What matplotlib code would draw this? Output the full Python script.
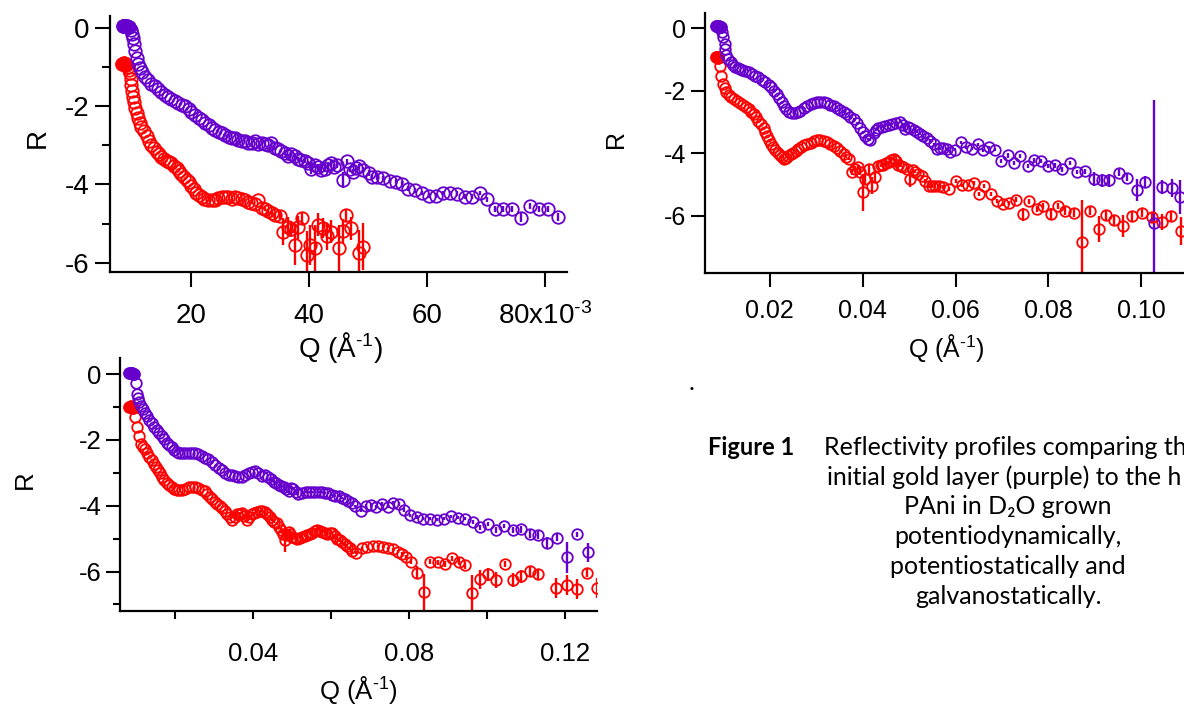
import matplotlib
matplotlib.use('Agg')
import matplotlib.pyplot as plt
from matplotlib.ticker import FixedLocator

plt.rcParams['font.family'] = ['Liberation Sans', 'DejaVu Sans']
plt.rcParams['mathtext.fontset'] = 'custom'
plt.rcParams['mathtext.rm'] = 'Liberation Sans'
plt.rcParams['mathtext.it'] = 'Liberation Sans:italic'
plt.rcParams['axes.unicode_minus'] = False

# ---------------- data: (Q, log R, error) ----------------
# Panel A (top left) -- Q in units of 1e-3 1/Angstrom
gold_a = [
    (8.5, 0.06, 0), (8.7, 0.05, 0), (8.9, 0.06, 0), (9.1, 0.05, 0), (9.3, 0.04, 0), (9.5, 0.03, 0),
    (9.8, -0.05, 0), (10.0, -0.15, 0), (10.2, -0.25, 0), (10.4, -0.40, 0), (10.6, -0.58, 0), (10.8, -0.77, 0),
    (11.1, -0.92, 0), (11.4, -1.02, 0), (11.8, -1.13, 0), (12.2, -1.24, 0), (12.7, -1.33, 0), (13.3, -1.42, 0),
    (13.9, -1.49, 0), (14.5, -1.57, 0), (15.0, -1.63, 0), (15.6, -1.70, 0), (16.2, -1.76, 0), (16.7, -1.81, 0),
    (17.3, -1.86, 0), (17.9, -1.91, 0), (18.5, -1.96, 0), (19.0, -2.00, 0), (19.6, -2.08, 0), (20.1, -2.14, 0),
    (20.7, -2.22, 0), (21.3, -2.29, 0), (21.8, -2.36, 0), (22.4, -2.43, 0), (23.0, -2.49, 0), (23.5, -2.55, 0),
    (24.1, -2.60, 0), (24.7, -2.65, 0), (25.2, -2.69, 0), (25.8, -2.73, 0), (26.4, -2.78, 0), (27.0, -2.82, 0),
    (27.5, -2.80, 0), (28.0, -2.86, 0), (28.6, -2.90, 0), (29.2, -2.88, 0), (29.7, -2.94, 0), (30.3, -2.93, 0),
    (30.9, -2.90, 0), (31.4, -2.97, 0), (32.0, -2.95, 0), (32.5, -2.97, 0), (33.1, -3.00, 0), (33.6, -2.95, 0),
    (34.2, -3.07, 0), (34.8, -3.10, 0), (35.3, -3.15, 0), (35.9, -3.20, 0.05), (36.4, -3.27, 0.05), (37.0, -3.22, 0.05),
    (37.6, -3.28, 0.05), (38.1, -3.36, 0.05), (38.7, -3.38, 0.05), (39.3, -3.41, 0.05), (39.8, -3.45, 0.05), (40.4, -3.60, 0.12),
    (41.0, -3.50, 0.08), (41.5, -3.55, 0.08), (42.1, -3.62, 0.08), (42.7, -3.60, 0.08), (43.2, -3.50, 0.08), (43.8, -3.46, 0.08),
    (44.3, -3.55, 0.08), (44.7, -3.50, 0.08), (45.7, -3.89, 0.20), (46.4, -3.41, 0.07), (47.0, -3.60, 0.07), (47.5, -3.67, 0.07),
    (48.0, -3.58, 0.07), (48.4, -3.54, 0.07), (49.2, -3.63, 0.07), (50.1, -3.71, 0.07), (50.6, -3.80, 0.07), (51.5, -3.81, 0.07),
    (52.5, -3.84, 0.06), (53.7, -3.90, 0.06), (54.7, -3.93, 0.06), (55.7, -3.98, 0.06), (56.8, -4.11, 0.06), (58.0, -4.15, 0.06),
    (59.1, -4.22, 0.06), (60.3, -4.29, 0.06), (61.5, -4.29, 0.06), (62.7, -4.22, 0.06), (63.9, -4.22, 0.06), (65.0, -4.24, 0.06),
    (66.4, -4.31, 0.06), (67.6, -4.31, 0.06), (68.9, -4.22, 0.06), (70.2, -4.38, 0.06), (71.5, -4.63, 0.07), (72.9, -4.63, 0.07),
    (74.4, -4.63, 0.07), (75.9, -4.85, 0.12), (77.5, -4.55, 0.07), (78.9, -4.63, 0.07), (80.4, -4.63, 0.07), (82.1, -4.84, 0.10),
]
pani_a = [
    (8.4, -0.92, 0), (8.6, -0.90, 0), (8.8, -0.91, 0), (9.0, -0.95, 0),
    (9.3, -1.00, 0), (9.5, -1.08, 0), (9.7, -1.15, 0), (9.8, -1.30, 0), (9.9, -1.45, 0), (10.05, -1.60, 0),
    (10.2, -1.75, 0), (10.35, -1.90, 0), (10.5, -2.05, 0), (10.8, -2.18, 0), (11.1, -2.30, 0), (11.4, -2.42, 0),
    (11.6, -2.52, 0), (12.0, -2.64, 0), (12.5, -2.77, 0), (12.9, -2.88, 0), (13.3, -2.99, 0), (13.8, -3.08, 0),
    (14.2, -3.16, 0), (14.6, -3.23, 0), (15.0, -3.29, 0), (15.5, -3.35, 0), (15.9, -3.40, 0), (16.3, -3.43, 0),
    (16.7, -3.46, 0), (17.2, -3.52, 0), (17.6, -3.58, 0), (18.0, -3.66, 0), (18.4, -3.74, 0), (18.9, -3.81, 0),
    (19.3, -3.88, 0), (19.7, -3.95, 0), (20.1, -4.03, 0), (20.5, -4.12, 0), (20.9, -4.22, 0), (21.4, -4.28, 0),
    (21.8, -4.33, 0), (22.3, -4.37, 0), (22.9, -4.39, 0), (23.5, -4.40, 0), (24.1, -4.39, 0), (24.6, -4.35, 0),
    (25.2, -4.31, 0), (25.8, -4.33, 0), (26.3, -4.33, 0), (26.9, -4.36, 0), (27.5, -4.31, 0), (28.0, -4.35, 0),
    (28.6, -4.37, 0), (29.1, -4.40, 0), (29.7, -4.44, 0), (30.2, -4.48, 0), (30.8, -4.50, 0), (31.4, -4.40, 0),
    (32.0, -4.59, 0.05), (32.5, -4.62, 0.05), (33.1, -4.69, 0.06), (33.7, -4.74, 0.07), (34.2, -4.78, 0.08), (35.1, -4.80, 0.10),
    (35.6, -5.21, 0.35), (36.5, -5.08, 0.25), (37.0, -5.15, 0.20), (37.6, -5.55, 0.50), (38.2, -5.10, 0.30), (38.8, -4.86, 0.15),
    (39.6, -5.80, 0.60), (40.2, -5.55, 0.50), (41.0, -5.63, 0.60), (41.6, -5.03, 0.30), (42.4, -5.12, 0.25), (43.0, -5.33, 0.35),
    (43.8, -5.21, 0.30), (45.1, -5.63, 0.60), (45.8, -5.19, 0.30), (46.3, -4.78, 0.15), (47.1, -5.12, 0.30), (48.4, -5.76, 0.60),
    (49.2, -5.59, 0.60),
]

# Panel B (top right)
gold_b = [
    (0.0085, 0.05, 0), (0.0087, 0.05, 0), (0.0089, 0.04, 0), (0.0091, 0.05, 0), (0.0093, 0.04, 0), (0.0095, 0.03, 0),
    (0.0098, -0.12, 0), (0.0100, -0.30, 0), (0.0103, -0.50, 0), (0.0105, -0.67, 0), (0.0107, -0.85, 0), (0.0111, -0.99, 0),
    (0.0116, -1.10, 0), (0.0121, -1.18, 0), (0.0126, -1.24, 0), (0.0131, -1.27, 0), (0.0136, -1.30, 0), (0.0141, -1.33, 0),
    (0.0148, -1.37, 0), (0.0155, -1.42, 0), (0.0162, -1.47, 0), (0.0169, -1.52, 0), (0.0176, -1.58, 0), (0.0184, -1.66, 0),
    (0.0191, -1.73, 0), (0.0198, -1.82, 0), (0.0204, -1.90, 0), (0.0210, -2.00, 0), (0.0216, -2.12, 0), (0.0221, -2.25, 0),
    (0.0226, -2.38, 0), (0.0230, -2.50, 0), (0.0235, -2.60, 0), (0.0241, -2.67, 0), (0.0248, -2.71, 0), (0.0255, -2.72, 0),
    (0.0261, -2.69, 0), (0.0266, -2.64, 0), (0.0273, -2.57, 0), (0.0280, -2.50, 0), (0.0288, -2.44, 0), (0.0295, -2.40, 0),
    (0.0302, -2.37, 0), (0.0309, -2.35, 0), (0.0316, -2.37, 0), (0.0323, -2.40, 0), (0.0331, -2.45, 0), (0.0338, -2.50, 0),
    (0.0345, -2.55, 0.03), (0.0352, -2.61, 0.03), (0.0359, -2.68, 0.03), (0.0366, -2.75, 0.03), (0.0374, -2.83, 0.03), (0.0381, -2.91, 0.03),
    (0.0388, -3.03, 0.03), (0.0394, -3.18, 0.03), (0.0400, -3.32, 0.03), (0.0406, -3.46, 0.03), (0.0412, -3.55, 0.03), (0.0417, -3.57, 0.03),
    (0.0424, -3.34, 0.04), (0.0429, -3.25, 0.04), (0.0434, -3.18, 0.04), (0.0442, -3.15, 0.04), (0.0449, -3.12, 0.04), (0.0456, -3.09, 0.04),
    (0.0463, -3.07, 0.04), (0.0472, -3.05, 0.04), (0.0481, -2.99, 0.04), (0.0487, -3.10, 0.08), (0.0492, -3.23, 0.06), (0.0498, -3.15, 0.04),
    (0.0503, -3.18, 0.04), (0.0510, -3.25, 0.04), (0.0517, -3.31, 0.04), (0.0524, -3.38, 0.04), (0.0531, -3.46, 0.04), (0.0539, -3.52, 0.04),
    (0.0546, -3.60, 0.04), (0.0553, -3.72, 0.04), (0.0560, -3.87, 0.04), (0.0567, -3.85, 0.05), (0.0574, -3.83, 0.05), (0.0581, -3.88, 0.05),
    (0.0589, -3.96, 0.05), (0.0599, -3.89, 0.05), (0.0612, -3.65, 0.05), (0.0623, -3.81, 0.05), (0.0635, -3.86, 0.05), (0.0648, -3.72, 0.05),
    (0.0660, -3.91, 0.05), (0.0673, -3.81, 0.05), (0.0685, -3.89, 0.05), (0.0698, -4.26, 0.07), (0.0712, -4.07, 0.07), (0.0725, -4.32, 0.07),
    (0.0739, -4.10, 0.07), (0.0755, -4.42, 0.07), (0.0769, -4.23, 0.07), (0.0784, -4.26, 0.07), (0.0798, -4.42, 0.07), (0.0814, -4.39, 0.07),
    (0.0830, -4.52, 0.07), (0.0847, -4.32, 0.07), (0.0862, -4.60, 0.07), (0.0879, -4.58, 0.07), (0.0897, -4.82, 0.22), (0.0915, -4.87, 0.22),
    (0.0931, -4.87, 0.20), (0.0951, -4.62, 0.10), (0.0969, -4.78, 0.10), (0.0990, -5.19, 0.35), (0.1008, -4.92, 0.20), (0.1026, -6.24, 3.95),
    (0.1045, -5.08, 0.22), (0.1065, -5.12, 0.28), (0.1084, -5.40, 0.53),
]
pani_b = [
    (0.0084, -0.93, 0), (0.0086, -0.92, 0), (0.0088, -0.94, 0), (0.0090, -0.97, 0),
    (0.0093, -1.20, 0), (0.0095, -1.52, 0), (0.0100, -1.79, 0), (0.0104, -1.93, 0), (0.0107, -2.03, 0), (0.0112, -2.13, 0),
    (0.0117, -2.22, 0), (0.0123, -2.27, 0), (0.0130, -2.32, 0), (0.0136, -2.39, 0), (0.0143, -2.46, 0), (0.0149, -2.52, 0),
    (0.0155, -2.59, 0), (0.0161, -2.67, 0), (0.0166, -2.75, 0), (0.0171, -2.85, 0), (0.0176, -2.96, 0), (0.0182, -3.08, 0),
    (0.0187, -3.21, 0), (0.0191, -3.33, 0), (0.0194, -3.44, 0), (0.0199, -3.58, 0), (0.0203, -3.71, 0), (0.0208, -3.80, 0),
    (0.0212, -3.89, 0), (0.0217, -3.98, 0), (0.0222, -4.06, 0), (0.0226, -4.13, 0), (0.0230, -4.19, 0), (0.0235, -4.15, 0),
    (0.0239, -4.10, 0), (0.0245, -4.04, 0), (0.0250, -3.98, 0), (0.0256, -3.93, 0), (0.0262, -3.87, 0), (0.0268, -3.80, 0),
    (0.0275, -3.74, 0), (0.0281, -3.70, 0), (0.0288, -3.66, 0), (0.0295, -3.61, 0), (0.0302, -3.57, 0), (0.0309, -3.58, 0),
    (0.0316, -3.60, 0), (0.0323, -3.65, 0), (0.0331, -3.71, 0), (0.0338, -3.76, 0), (0.0345, -3.82, 0), (0.0352, -3.92, 0),
    (0.0359, -4.03, 0), (0.0365, -4.12, 0.03), (0.0370, -4.19, 0.04), (0.0377, -4.61, 0.10), (0.0384, -4.51, 0.10), (0.0390, -4.45, 0.08),
    (0.0394, -4.59, 0.12), (0.0400, -5.25, 0.60), (0.0406, -4.83, 0.20), (0.0413, -4.51, 0.15), (0.0420, -5.04, 0.28), (0.0427, -4.77, 0.15),
    (0.0434, -4.40, 0.05), (0.0440, -4.39, 0.05), (0.0445, -4.38, 0.05), (0.0451, -4.33, 0.05), (0.0456, -4.29, 0.05), (0.0461, -4.22, 0.05),
    (0.0467, -4.19, 0.05), (0.0472, -4.25, 0.05), (0.0477, -4.38, 0.08), (0.0483, -4.40, 0.05), (0.0488, -4.45, 0.05), (0.0495, -4.50, 0.05),
    (0.0503, -4.83, 0.25), (0.0508, -4.55, 0.05), (0.0513, -4.59, 0.05), (0.0520, -4.65, 0.05), (0.0528, -4.74, 0.05), (0.0535, -4.90, 0.06),
    (0.0542, -5.06, 0.06), (0.0549, -5.06, 0.06), (0.0556, -5.06, 0.06), (0.0565, -5.05, 0.06), (0.0574, -5.08, 0.06), (0.0587, -5.14, 0.06),
    (0.0601, -4.89, 0.06), (0.0614, -5.03, 0.06), (0.0626, -5.03, 0.06), (0.0639, -4.96, 0.06), (0.0650, -5.30, 0.06), (0.0662, -5.06, 0.06),
    (0.0676, -5.30, 0.06), (0.0690, -5.53, 0.06), (0.0702, -5.64, 0.06), (0.0716, -5.59, 0.06), (0.0731, -5.49, 0.08), (0.0745, -5.96, 0.20),
    (0.0759, -5.53, 0.08), (0.0775, -5.78, 0.10), (0.0789, -5.70, 0.10), (0.0805, -5.94, 0.20), (0.0820, -5.70, 0.10), (0.0836, -5.85, 0.12),
    (0.0854, -5.91, 0.12), (0.0873, -6.84, 1.33), (0.0890, -5.85, 0.12), (0.0908, -6.42, 0.42), (0.0924, -5.99, 0.15), (0.0941, -6.15, 0.18),
    (0.0960, -6.34, 0.35), (0.0979, -6.02, 0.15), (0.1001, -5.91, 0.12), (0.1022, -6.04, 0.15), (0.1044, -6.20, 0.25), (0.1063, -6.02, 0.15),
    (0.1085, -6.49, 0.45),
]

# Panel C (bottom left)
gold_c = [
    (0.0083, 0.02, 0), (0.0086, 0.03, 0), (0.0089, 0.02, 0), (0.0092, 0.01, 0), (0.0095, 0.00, 0),
    (0.0100, -0.28, 0), (0.0102, -0.59, 0), (0.0105, -0.72, 0), (0.0108, -0.84, 0), (0.0112, -0.96, 0), (0.0117, -1.07, 0),
    (0.0122, -1.17, 0), (0.0128, -1.28, 0), (0.0134, -1.39, 0), (0.0141, -1.50, 0), (0.0147, -1.60, 0), (0.0154, -1.70, 0),
    (0.0160, -1.79, 0), (0.0167, -1.88, 0), (0.0173, -1.98, 0), (0.0179, -2.09, 0), (0.0186, -2.16, 0), (0.0192, -2.23, 0),
    (0.0198, -2.30, 0), (0.0205, -2.36, 0), (0.0211, -2.39, 0), (0.0218, -2.41, 0), (0.0226, -2.40, 0), (0.0235, -2.39, 0),
    (0.0243, -2.40, 0), (0.0252, -2.41, 0), (0.0260, -2.44, 0), (0.0269, -2.49, 0), (0.0277, -2.54, 0), (0.0286, -2.59, 0),
    (0.0294, -2.67, 0), (0.0303, -2.77, 0), (0.0312, -2.85, 0), (0.0321, -2.92, 0), (0.0329, -3.00, 0), (0.0338, -3.07, 0),
    (0.0346, -3.08, 0), (0.0355, -3.10, 0), (0.0363, -3.12, 0), (0.0372, -3.14, 0), (0.0380, -3.06, 0), (0.0389, -3.00, 0),
    (0.0397, -2.97, 0), (0.0406, -2.95, 0), (0.0414, -3.02, 0), (0.0423, -3.10, 0), (0.0431, -3.08, 0), (0.0440, -3.12, 0),
    (0.0446, -3.20, 0.04), (0.0453, -3.27, 0.04), (0.0460, -3.32, 0.04), (0.0466, -3.37, 0.04), (0.0473, -3.40, 0.04), (0.0479, -3.42, 0.04),
    (0.0486, -3.50, 0.04), (0.0492, -3.55, 0.04), (0.0498, -3.45, 0.04), (0.0504, -3.48, 0.04), (0.0511, -3.57, 0.04), (0.0517, -3.63, 0.04),
    (0.0526, -3.60, 0.03), (0.0535, -3.58, 0.03), (0.0543, -3.58, 0.03), (0.0552, -3.58, 0.03), (0.0560, -3.58, 0.03), (0.0569, -3.58, 0.03),
    (0.0577, -3.58, 0.03), (0.0586, -3.60, 0.03), (0.0594, -3.62, 0.03), (0.0603, -3.66, 0.03), (0.0611, -3.69, 0.03), (0.0620, -3.71, 0.03),
    (0.0628, -3.76, 0.03), (0.0637, -3.81, 0.03), (0.0645, -3.87, 0.03), (0.0654, -3.93, 0.03), (0.0663, -4.01, 0.03), (0.0678, -4.15, 0.05),
    (0.0691, -4.01, 0.05), (0.0703, -3.98, 0.05), (0.0717, -4.03, 0.05), (0.0731, -3.95, 0.05), (0.0746, -4.03, 0.05), (0.0760, -3.91, 0.05),
    (0.0774, -3.95, 0.05), (0.0789, -4.13, 0.05), (0.0804, -4.29, 0.05), (0.0821, -4.34, 0.05), (0.0837, -4.39, 0.05), (0.0854, -4.39, 0.05),
    (0.0873, -4.42, 0.05), (0.0890, -4.39, 0.05), (0.0909, -4.32, 0.05), (0.0926, -4.36, 0.05), (0.0945, -4.39, 0.05), (0.0964, -4.49, 0.06),
    (0.0984, -4.66, 0.08), (0.1004, -4.56, 0.06), (0.1025, -4.74, 0.10), (0.1045, -4.61, 0.06), (0.1067, -4.74, 0.10), (0.1088, -4.72, 0.10),
    (0.1110, -4.87, 0.12), (0.1131, -4.89, 0.12), (0.1155, -5.13, 0.18), (0.1181, -4.97, 0.10), (0.1206, -5.57, 0.46), (0.1232, -4.87, 0.08),
    (0.1259, -5.42, 0.30),
]
pani_c = [
    (0.0083, -0.99, 0), (0.0086, -0.98, 0), (0.0089, -0.99, 0), (0.0092, -1.02, 0),
    (0.0098, -1.30, 0), (0.0102, -1.60, 0), (0.0107, -1.88, 0), (0.0113, -2.11, 0), (0.0118, -2.20, 0), (0.0124, -2.29, 0),
    (0.0129, -2.40, 0), (0.0134, -2.51, 0), (0.0140, -2.62, 0), (0.0145, -2.72, 0), (0.0151, -2.82, 0), (0.0156, -2.92, 0),
    (0.0162, -3.02, 0), (0.0167, -3.12, 0), (0.0173, -3.21, 0), (0.0179, -3.30, 0), (0.0186, -3.37, 0), (0.0192, -3.44, 0),
    (0.0198, -3.49, 0), (0.0205, -3.53, 0), (0.0211, -3.53, 0), (0.0218, -3.52, 0), (0.0226, -3.48, 0), (0.0235, -3.44, 0),
    (0.0243, -3.42, 0), (0.0252, -3.42, 0), (0.0260, -3.46, 0), (0.0269, -3.51, 0), (0.0276, -3.56, 0), (0.0282, -3.63, 0),
    (0.0289, -3.72, 0), (0.0295, -3.81, 0), (0.0302, -3.88, 0), (0.0308, -3.95, 0), (0.0315, -4.02, 0), (0.0321, -4.08, 0),
    (0.0328, -4.16, 0), (0.0334, -4.24, 0), (0.0340, -4.33, 0), (0.0346, -4.42, 0), (0.0353, -4.35, 0.04), (0.0359, -4.26, 0.04),
    (0.0366, -4.24, 0.04), (0.0372, -4.22, 0.04), (0.0378, -4.30, 0.04), (0.0385, -4.42, 0.08), (0.0391, -4.35, 0.04), (0.0398, -4.26, 0.04),
    (0.0404, -4.22, 0.04), (0.0411, -4.19, 0.04), (0.0417, -4.17, 0.04), (0.0423, -4.15, 0.04), (0.0430, -4.20, 0.04), (0.0436, -4.26, 0.04),
    (0.0443, -4.34, 0.04), (0.0449, -4.42, 0.04), (0.0455, -4.48, 0.04), (0.0462, -4.54, 0.04), (0.0468, -4.64, 0.04), (0.0473, -4.74, 0.06),
    (0.0478, -4.85, 0.10), (0.0483, -5.05, 0.36), (0.0488, -4.90, 0.15), (0.0492, -4.79, 0.05), (0.0496, -4.86, 0.05), (0.0500, -4.94, 0.05),
    (0.0507, -4.97, 0.05), (0.0513, -5.00, 0.05), (0.0520, -4.97, 0.05), (0.0526, -4.94, 0.05), (0.0533, -4.91, 0.05), (0.0539, -4.89, 0.05),
    (0.0546, -4.85, 0.05), (0.0552, -4.82, 0.05), (0.0559, -4.78, 0.05), (0.0565, -4.74, 0.05), (0.0571, -4.77, 0.05), (0.0577, -4.79, 0.05),
    (0.0584, -4.83, 0.05), (0.0590, -4.86, 0.05), (0.0597, -4.84, 0.05), (0.0603, -4.82, 0.05), (0.0610, -4.91, 0.05), (0.0616, -5.00, 0.05),
    (0.0623, -5.05, 0.05), (0.0629, -5.10, 0.05), (0.0636, -5.17, 0.05), (0.0642, -5.23, 0.05), (0.0648, -5.30, 0.05), (0.0655, -5.38, 0.05),
    (0.0665, -5.43, 0.05), (0.0680, -5.30, 0.05), (0.0694, -5.25, 0.05), (0.0708, -5.23, 0.05), (0.0720, -5.23, 0.05), (0.0733, -5.25, 0.05),
    (0.0746, -5.30, 0.05), (0.0760, -5.33, 0.05), (0.0772, -5.40, 0.05), (0.0783, -5.47, 0.05), (0.0794, -5.55, 0.05), (0.0806, -5.70, 0.08),
    (0.0821, -6.04, 0.20), (0.0838, -6.62, 0.55), (0.0854, -5.70, 0.08), (0.0874, -5.72, 0.08), (0.0894, -5.77, 0.08), (0.0911, -5.60, 0.08),
    (0.0928, -5.70, 0.10), (0.0945, -5.81, 0.10), (0.0963, -6.65, 0.55), (0.0984, -6.24, 0.30), (0.1004, -6.08, 0.20), (0.1024, -6.26, 0.25),
    (0.1046, -5.77, 0.10), (0.1067, -6.26, 0.20), (0.1088, -6.14, 0.20), (0.1110, -5.98, 0.15), (0.1131, -6.08, 0.15), (0.1179, -6.51, 0.30),
    (0.1205, -6.41, 0.30), (0.1232, -6.54, 0.30), (0.1258, -6.04, 0.12), (0.1282, -6.51, 0.30),
]

xticks_a = [20, 40, 60, 80]
xlabels_a = ['20', '40', '60', '80x10$^{\\text{-3}}$']
xticks_b = [0.02, 0.04, 0.06, 0.08, 0.10]
xlabels_b = ['0.02', '0.04', '0.06', '0.08', '0.10']
xticks_c = [0.02, 0.04, 0.06, 0.08, 0.10, 0.12]
xlabels_c = ['', '0.04', '', '0.08', '', '0.12']
yticks = [0, -2, -4, -6]
ylabels = ['0', '-2', '-4', '-6']
xtitle = 'Q (Å$^{\\text{-1}}$)'
ytitle = 'R'

caption_head = 'Figure 1'
caption_lines = ['Reflectivity profiles comparing the',
                 'initial gold layer (purple) to the h',
                 'PAni in D\u2082O grown',
                 'potentiodynamically,',
                 'potentiostatically and',
                 'galvanostatically.']

GOLD = '#6600cc'
PANI = '#ff0000'

W, H = 1184, 704
fig = plt.figure(figsize=(W / 100, H / 100), dpi=100)


def px_axes(l, t, r, b):
    return fig.add_axes([l / W, 1 - b / H, (r - l) / W, (b - t) / H])


def draw(ax, gold, pani, nf_gold, nf_pani, ms):
    for data, col, nf in ((pani, PANI, nf_pani), (gold, GOLD, nf_gold)):
        q = [d[0] for d in data]
        r = [d[1] for d in data]
        e = [d[2] for d in data]
        ax.errorbar(q, r, yerr=e, fmt='none', ecolor=col, elinewidth=1.7, capsize=0, zorder=2)
        ax.plot(q, r, 'o', ms=ms, mfc='none', mec=col, mew=1.3, zorder=3)
        ax.plot(q[:nf], r[:nf], 'o', ms=ms, mfc=col, mec=col, mew=1.3, zorder=3)
    for s in ('top', 'right'):
        ax.spines[s].set_visible(False)
    for s in ('left', 'bottom'):
        ax.spines[s].set_linewidth(1.6)
    ax.set_yticks(yticks)
    ax.set_yticklabels(ylabels)


# ---- Panel A ----
axA = px_axes(110, 16, 567, 272)
draw(axA, gold_a, pani_a, 6, 4, 9.0)
axA.set_xlim(6.3, 83.7)
axA.set_ylim(-6.24, 0.31)
axA.set_xticks(xticks_a)
axA.set_xticklabels(xlabels_a)
axA.yaxis.set_minor_locator(FixedLocator([-1, -3, -5]))
axA.tick_params(axis='both', which='major', direction='out', length=11, width=1.5, labelsize=20)
axA.tick_params(axis='x', pad=11)
axA.tick_params(axis='y', which='minor', direction='out', length=6, width=1.5)
fig.text(340 / W, 1 - 357 / H, xtitle, ha='center', va='baseline', fontsize=20)
fig.text(38 / W, 1 - 138 / H, ytitle, ha='center', va='center', rotation=90, fontsize=20)

# ---- Panel B ----
axB = px_axes(705, 13, 1200, 273)
draw(axB, gold_b, pani_b, 6, 4, 7.6)
axB.set_xlim(0.0061, 0.1126)
axB.set_ylim(-7.83, 0.48)
axB.set_xticks(xticks_b)
axB.set_xticklabels(xlabels_b)
axB.tick_params(axis='both', which='major', direction='out', length=10, width=1.5, labelsize=18)
axB.tick_params(axis='x', pad=9)
fig.text(946 / W, 1 - 357 / H, xtitle, ha='center', va='baseline', fontsize=18)
fig.text(616 / W, 1 - 139 / H, ytitle, ha='center', va='center', rotation=90, fontsize=18)

# ---- Panel C ----
axC = px_axes(120, 358, 597, 611)
draw(axC, gold_c, pani_c, 5, 4, 7.6)
axC.set_xlim(0.0059, 0.1283)
axC.set_ylim(-7.2, 0.49)
axC.set_xticks(xticks_c)
axC.set_xticklabels(xlabels_c)
axC.yaxis.set_minor_locator(FixedLocator([-1, -3, -5, -7]))
axC.tick_params(axis='y', which='major', direction='out', length=10, width=1.5, labelsize=18.5)
axC.tick_params(axis='x', which='major', direction='out', length=6, width=1.5, labelsize=18.5, pad=16)
axC.tick_params(axis='y', which='minor', direction='out', length=5, width=1.5)
fig.text(358 / W, 1 - 699 / H, xtitle, ha='center', va='baseline', fontsize=18.5)
fig.text(25 / W, 1 - 480 / H, ytitle, ha='center', va='center', rotation=90, fontsize=18.5)

# ---- caption ----
cap_font = ['Lato', 'DejaVu Sans']
fig.text(692 / W, 1 - 390 / H, '.', ha='center', va='baseline', fontsize=18, family=cap_font)
fig.text(708 / W, 1 - 455 / H, caption_head, ha='left', va='baseline', fontsize=17,
         fontweight='bold', family=cap_font)
fig.text(824 / W, 1 - 455 / H, caption_lines[0], ha='left', va='baseline', fontsize=18, family=cap_font)
fig.text(827 / W, 1 - 485 / H, caption_lines[1], ha='left', va='baseline', fontsize=18, family=cap_font)
for i, line in enumerate(caption_lines[2:]):
    fig.text(1008 / W, 1 - (514.5 + 29.7 * i) / H, line, ha='center', va='baseline',
             fontsize=18, family=cap_font)

fig.savefig('out.png', dpi=100)
